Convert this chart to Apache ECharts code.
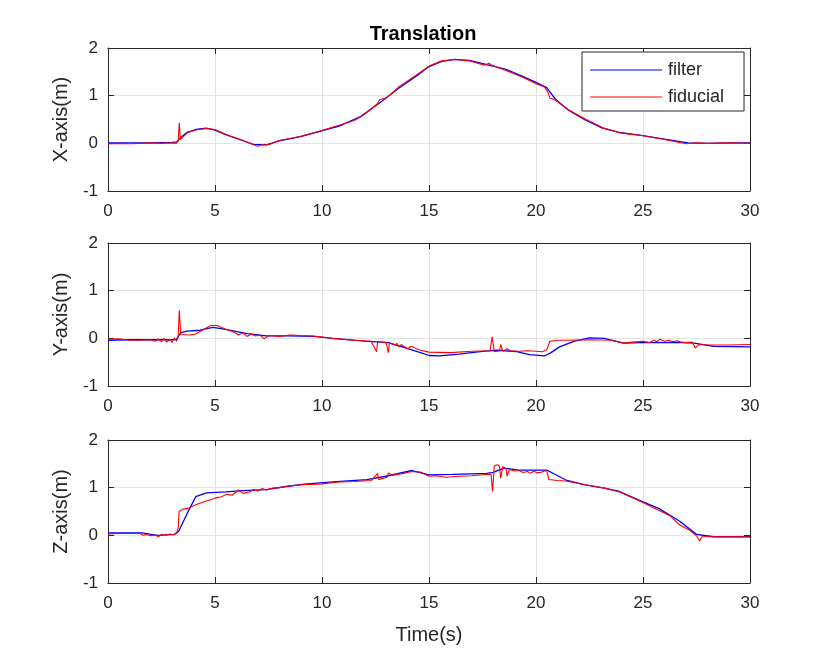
<!DOCTYPE html>
<html>
<head>
<meta charset="utf-8">
<script src="https://cdn.jsdelivr.net/npm/echarts@6/dist/echarts.min.js"></script>
<style>
  html, body { margin: 0; padding: 0; background: #fff; }
  #chart { width: 830px; height: 655px; }
</style>
</head>
<body>
<div id="chart"></div>
<script>
// X axis (top panel)
var xFilterT = [0, 1, 2, 3, 3.2, 3.4, 3.7, 4.1, 4.6, 4.9, 5.5, 6.2, 6.8, 7.4, 8.0, 9.0, 9.9, 10.8, 11.8, 12.7, 13.6, 14.4, 15.0, 15.6, 16.2, 16.9, 17.8, 18.6, 19.4, 20.0, 20.5, 20.9, 21.5, 22.3, 23.1, 23.9, 25.0, 26.0, 27.1, 28.0, 29.0, 30];
var xFilterV = [0.01, 0.01, 0.01, 0.02, 0.03, 0.12, 0.23, 0.29, 0.32, 0.29, 0.18, 0.07, -0.02, -0.03, 0.05, 0.14, 0.25, 0.36, 0.56, 0.85, 1.16, 1.41, 1.61, 1.72, 1.76, 1.74, 1.64, 1.55, 1.40, 1.28, 1.17, 0.93, 0.70, 0.49, 0.32, 0.23, 0.16, 0.09, 0.01, 0.0, 0.01, 0.01];
var xFidT = [0, 0.5, 1, 1.5, 2, 2.5, 3, 3.2, 3.28, 3.33, 3.38, 3.45, 3.7, 4.1, 4.6, 5.0, 5.5, 6.2, 6.8, 7.0, 7.2, 7.5, 8.0, 8.5, 9.0, 9.9, 10.8, 11.5, 11.8, 12.3, 12.6, 12.7, 13.0, 13.6, 14.4, 15.0, 15.6, 16.2, 16.9, 17.6, 17.8, 17.9, 18.1, 18.6, 19.4, 20.0, 20.4, 20.55, 20.65, 20.9, 21.5, 22.3, 23.1, 23.9, 25.0, 26.0, 27.0, 27.5, 28.0, 29.0, 30];
var xFidV = [-0.01, 0.0, -0.01, 0.0, 0.01, 0.0, 0.01, 0.0, 0.05, 0.43, 0.08, 0.12, 0.22, 0.28, 0.31, 0.29, 0.19, 0.08, -0.03, -0.06, -0.03, -0.03, 0.06, 0.10, 0.15, 0.26, 0.38, 0.48, 0.55, 0.72, 0.84, 0.92, 0.95, 1.19, 1.43, 1.62, 1.73, 1.76, 1.73, 1.64, 1.68, 1.65, 1.61, 1.53, 1.38, 1.25, 1.18, 1.08, 0.95, 0.91, 0.71, 0.51, 0.33, 0.22, 0.16, 0.08, -0.01, 0.01, 0.0, 0.01, 0.0];

// Y axis (middle panel)
var yFilterT = [0, 1, 2, 3, 3.2, 3.4, 3.7, 4.3, 4.9, 5.5, 6.5, 7.4, 8.4, 9.6, 10.5, 12.0, 13.1, 13.9, 14.6, 15.0, 15.5, 16.4, 17.6, 18.2, 19.1, 19.7, 20.4, 20.7, 21.1, 21.8, 22.5, 23.2, 24.1, 25.0, 26.6, 27.4, 28.3, 30];
var yFilterV = [-0.04, -0.03, -0.03, -0.03, -0.02, 0.12, 0.15, 0.17, 0.23, 0.19, 0.10, 0.05, 0.05, 0.04, 0.0, -0.06, -0.09, -0.2, -0.30, -0.36, -0.37, -0.33, -0.27, -0.25, -0.28, -0.34, -0.37, -0.30, -0.18, -0.06, 0.01, 0.0, -0.1, -0.09, -0.085, -0.1, -0.17, -0.18];
var yFidT = [0, 0.5, 1, 1.5, 2.0, 2.2, 2.35, 2.5, 2.6, 2.75, 2.9, 3.0, 3.1, 3.2, 3.28, 3.33, 3.4, 3.5, 3.8, 4.1, 4.4, 4.8, 5.1, 5.5, 5.9, 6.1, 6.3, 6.5, 6.7, 6.9, 7.1, 7.3, 7.5, 8.0, 8.5, 9.0, 9.6, 10.5, 11.5, 12.3, 12.55, 12.6, 12.65, 13.0, 13.1, 13.15, 13.4, 13.5, 13.6, 13.7, 13.8, 13.9, 14.0, 14.15, 14.3, 14.45, 14.6, 15.0, 16.0, 17.0, 17.85, 17.95, 18.05, 18.3, 18.35, 18.45, 18.65, 18.7, 18.8, 19.2, 19.6, 20.0, 20.3, 20.5, 20.65, 21.0, 21.5, 22.5, 23.5, 24.1, 24.5, 25.0, 25.3, 25.5, 25.65, 25.8, 26.0, 26.2, 26.4, 26.6, 26.8, 27.0, 27.3, 27.45, 27.6, 28.0, 29.0, 30];
var yFidV = [-0.02, -0.01, -0.04, -0.04, -0.03, -0.06, -0.01, -0.07, 0.0, -0.08, -0.02, -0.09, 0.01, -0.06, 0.02, 0.59, 0.09, 0.08, 0.07, 0.09, 0.17, 0.27, 0.27, 0.19, 0.13, 0.07, 0.12, 0.04, 0.09, 0.05, 0.07, -0.01, 0.06, 0.04, 0.07, 0.06, 0.05, 0.0, -0.04, -0.06, -0.28, -0.07, -0.08, -0.09, -0.3, -0.1, -0.14, -0.11, -0.18, -0.13, -0.16, -0.19, -0.22, -0.17, -0.19, -0.23, -0.25, -0.29, -0.3, -0.27, -0.26, 0.03, -0.28, -0.26, -0.13, -0.27, -0.22, -0.25, -0.26, -0.27, -0.26, -0.27, -0.28, -0.24, -0.06, -0.04, -0.04, -0.03, -0.04, -0.1, -0.08, -0.06, -0.09, -0.04, -0.07, -0.02, -0.06, -0.04, -0.07, -0.05, -0.08, -0.09, -0.08, -0.2, -0.13, -0.14, -0.14, -0.13];

// Z axis (bottom panel)
var zFilterT = [0, 1, 1.6, 2.3, 3.1, 3.3, 3.7, 4.1, 4.6, 5.5, 6.3, 7.4, 8.4, 9.3, 10.5, 12.1, 13.1, 14.2, 15.0, 16.1, 17.7, 18.0, 18.5, 19.2, 20.5, 21.4, 22.3, 23.2, 23.9, 25.0, 25.75, 26.7, 27.5, 28.3, 30];
var zFilterV = [0.05, 0.05, 0.05, 0.0, 0.02, 0.08, 0.46, 0.81, 0.89, 0.91, 0.94, 0.96, 1.03, 1.08, 1.12, 1.17, 1.25, 1.36, 1.27, 1.28, 1.30, 1.32, 1.41, 1.37, 1.37, 1.16, 1.06, 0.99, 0.92, 0.70, 0.56, 0.30, 0.02, -0.03, -0.03];
var zFidT = [0, 0.5, 1.0, 1.5, 1.65, 1.8, 2.0, 2.2, 2.35, 2.5, 2.7, 2.9, 3.05, 3.2, 3.28, 3.32, 3.5, 3.7, 4.1, 4.6, 5.0, 5.3, 5.55, 5.8, 6.1, 6.3, 6.6, 6.8, 7.0, 7.2, 7.4, 7.7, 8.0, 8.4, 9.0, 9.5, 10.0, 10.8, 11.5, 12.3, 12.6, 12.65, 12.8, 13.05, 13.1, 13.3, 13.8, 14.2, 14.6, 15.0, 15.3, 15.8, 16.4, 17.0, 17.5, 17.9, 17.97, 18.05, 18.2, 18.3, 18.35, 18.45, 18.6, 18.65, 18.75, 19.0, 19.2, 19.4, 19.6, 19.75, 19.9, 20.05, 20.2, 20.5, 20.6, 21.0, 21.4, 22.3, 23.2, 23.9, 25.0, 25.7, 26.3, 26.7, 27.2, 27.5, 27.65, 27.75, 28.3, 29.0, 30];
var zFidV = [0.03, 0.04, 0.04, 0.04, 0.0, 0.02, -0.01, 0.01, -0.03, 0.02, 0.0, 0.03, 0.01, 0.05, 0.15, 0.5, 0.55, 0.56, 0.64, 0.72, 0.78, 0.81, 0.86, 0.84, 0.95, 0.88, 0.91, 0.96, 0.93, 0.98, 0.95, 0.99, 1.0, 1.03, 1.06, 1.07, 1.08, 1.12, 1.13, 1.15, 1.3, 1.17, 1.19, 1.22, 1.31, 1.26, 1.3, 1.34, 1.33, 1.24, 1.25, 1.22, 1.24, 1.25, 1.27, 1.28, 0.92, 1.46, 1.48, 1.45, 1.2, 1.44, 1.4, 1.24, 1.38, 1.35, 1.36, 1.32, 1.34, 1.30, 1.35, 1.31, 1.32, 1.36, 1.17, 1.15, 1.14, 1.06, 0.99, 0.91, 0.69, 0.53, 0.40, 0.22, 0.1, -0.01, -0.12, -0.03, -0.03, -0.03, -0.03];

var axisNames = ['X-axis(m)', 'Y-axis(m)', 'Z-axis(m)'];
var gridTops = [48, 243, 440];

function zip(t, v) {
    var res = [];
    for (var i = 0; i < t.length; i++) {
        res.push([t[i], v[i]]);
    }
    return res;
}

var dark = '#262626';
var font = 'Liberation Sans, Arial, sans-serif';

var grids = [], xAxes = [], yAxes = [];
for (var i = 0; i < 3; i++) {
    grids.push({ left: 108, top: gridTops[i], width: 642, height: 143, containLabel: false });
    // bottom x axis with labels and grid
    xAxes.push({
        type: 'value', gridIndex: i, min: 0, max: 30, interval: 5, position: 'bottom',
        name: i === 2 ? 'Time(s)' : '', nameLocation: 'middle', nameGap: 42,
        nameTextStyle: { color: dark, fontSize: 20, fontFamily: font },
        axisLine: { show: true, onZero: false, lineStyle: { color: dark, width: 1 } },
        axisTick: { show: true, inside: true, length: 6, lineStyle: { color: dark } },
        axisLabel: { color: dark, fontSize: 17, fontFamily: font, margin: 12 },
        splitLine: { show: true, lineStyle: { color: '#e3e3e3', width: 1 } }
    });
    // top x axis: box + ticks only
    xAxes.push({
        type: 'value', gridIndex: i, min: 0, max: 30, interval: 5, position: 'top',
        axisLine: { show: true, onZero: false, lineStyle: { color: dark, width: 1 } },
        axisTick: { show: true, inside: true, length: 6, lineStyle: { color: dark } },
        axisLabel: { show: false },
        splitLine: { show: false }
    });
    yAxes.push({
        type: 'value', gridIndex: i, min: -1, max: 2, interval: 1, position: 'left',
        name: axisNames[i], nameLocation: 'middle', nameGap: 35,
        nameTextStyle: { color: dark, fontSize: 20, fontFamily: font },
        axisLine: { show: true, onZero: false, lineStyle: { color: dark, width: 1 } },
        axisTick: { show: true, inside: true, length: 6, lineStyle: { color: dark } },
        axisLabel: { color: dark, fontSize: 17, fontFamily: font, margin: 10 },
        splitLine: { show: true, lineStyle: { color: '#e3e3e3', width: 1 } }
    });
    yAxes.push({
        type: 'value', gridIndex: i, min: -1, max: 2, interval: 1, position: 'right',
        axisLine: { show: true, onZero: false, lineStyle: { color: dark, width: 1 } },
        axisTick: { show: true, inside: true, length: 6, lineStyle: { color: dark } },
        axisLabel: { show: false },
        splitLine: { show: false }
    });
}

var panels = [
    [xFilterT, xFilterV, xFidT, xFidV],
    [yFilterT, yFilterV, yFidT, yFidV],
    [zFilterT, zFilterV, zFidT, zFidV]
];
var series = [];
for (var j = 0; j < 3; j++) {
    series.push({
        name: 'filter', type: 'line', xAxisIndex: j * 2, yAxisIndex: j * 2,
        data: zip(panels[j][0], panels[j][1]), symbol: 'none', smooth: false,
        lineStyle: { color: '#0000ff', width: 1.3 }, itemStyle: { color: '#0000ff' },
        animation: false, z: 2
    });
    series.push({
        name: 'fiducial', type: 'line', xAxisIndex: j * 2, yAxisIndex: j * 2,
        data: zip(panels[j][2], panels[j][3]), symbol: 'none', smooth: false,
        lineStyle: { color: '#ff0000', width: 1.1 }, itemStyle: { color: '#ff0000' },
        animation: false, z: 3
    });
}

var myChart = echarts.init(document.getElementById('chart'));
var option = {
    backgroundColor: '#fff',
    animation: false,
    title: {
        text: 'Translation', left: 418, top: 19, textAlign: 'center',
        textStyle: { color: '#000', fontSize: 20, fontWeight: 'bold', fontFamily: font }
    },
    legend: {
        data: ['filter', 'fiducial'],
        orient: 'vertical', left: 582, top: 52,
        backgroundColor: '#fff', borderColor: dark, borderWidth: 1,
        padding: [9, 20, 5, 8], itemGap: 9,
        itemWidth: 72, itemHeight: 18,
        icon: 'path://M0,9 L72,9 L72,10 L0,10 Z',
        textStyle: { color: dark, fontSize: 18, fontFamily: font, padding: [0, 0, 0, 1] }
    },
    grid: grids,
    xAxis: xAxes,
    yAxis: yAxes,
    series: series
};
myChart.setOption(option);
window.addEventListener('resize', function () {
    myChart.resize();
});
</script>
</body>
</html>
